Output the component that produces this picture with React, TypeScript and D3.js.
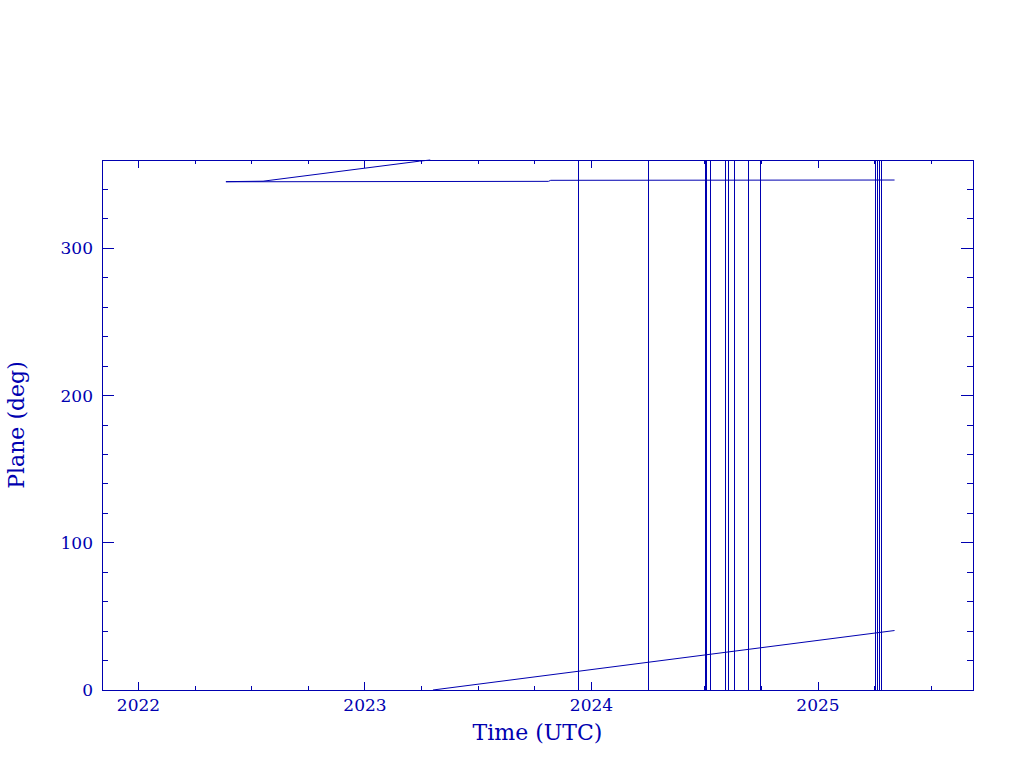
import React from "react";
import * as d3 from "d3";

// Orbit plane angle vs time (decimal years)
const upperTimes = [2022.386, 2022.55, 2023.24, 2023.288];
const upperDeg = [345.3, 345.6, 359.2, 360];

const lowerTimes = [2023.3, 2025.338];
const lowerDeg = [0, 40.4];

const flatTimes = [2022.386, 2023.81, 2023.82, 2025.338];
const flatDeg = [345.2, 345.5, 346.2, 346.4];

// full-range wraps (0 -> 360)
const wrapTimes = [
  2023.942, 2024.251, 2024.502, 2024.509, 2024.525, 2024.593, 2024.604,
  2024.63, 2024.692, 2024.745, 2025.255, 2025.264, 2025.272, 2025.282,
];

const xMajor = [2022, 2023, 2024, 2025];
const yMajor = [0, 100, 200, 300];

const BLUE = "#0000b0";
const FONT = "'DejaVu Serif', serif";

export default function App() {
  const left = 102, right = 973, top = 160, bottom = 690;
  const x = d3.scaleLinear().domain([2021.8389, 2025.6843]).range([left, right]);
  const y = d3.scaleLinear().domain([0, 360]).range([bottom, top]);

  const xMinor = d3.range(2022, 2025.7, 0.25).filter(t => Math.abs(t - Math.round(t)) > 0.01 && t < 2025.684);
  const yMinor = d3.range(0, 361, 20).filter(v => v % 100 !== 0);

  const line = d3
    .line<[number, number]>()
    .x(d => x(d[0]))
    .y(d => y(d[1]));
  const series = [
    d3.zip(upperTimes, upperDeg) as [number, number][],
    d3.zip(lowerTimes, lowerDeg) as [number, number][],
    d3.zip(flatTimes, flatDeg) as [number, number][],
  ];

  const tick = (x1: number, y1: number, x2: number, y2: number, k: string) => (
    <line key={k} x1={x1} y1={y1} x2={x2} y2={y2} stroke={BLUE} strokeWidth={1} />
  );

  return (
    <svg width={1024} height={768} style={{ position: "absolute", left: 0, top: 0, background: "#fff" }}>
      <g shapeRendering="crispEdges">
        <rect x={left} y={top} width={right - left} height={bottom - top} fill="none" stroke={BLUE} strokeWidth={1} />
        {xMajor.map(t => [
          tick(x(t), bottom, x(t), bottom - 8, "xb" + t),
          tick(x(t), top, x(t), top + 8, "xt" + t),
        ])}
        {xMinor.map(t => [
          tick(x(t), bottom, x(t), bottom - 4, "xmb" + t),
          tick(x(t), top, x(t), top + 4, "xmt" + t),
        ])}
        {yMajor.map(v => [
          tick(left, y(v), left + 12, y(v), "yl" + v),
          tick(right, y(v), right - 12, y(v), "yr" + v),
        ])}
        {yMinor.map(v => [
          tick(left, y(v), left + 6, y(v), "yml" + v),
          tick(right, y(v), right - 6, y(v), "ymr" + v),
        ])}
        {wrapTimes.map((t, i) => (
          <line key={"w" + i} x1={x(t)} x2={x(t)} y1={y(0)} y2={y(360)} stroke={BLUE} strokeWidth={1} />
        ))}
      </g>
      {series.map((s, i) => (
        <path key={"s" + i} d={line(s) || ""} fill="none" stroke={BLUE} strokeWidth={1} />
      ))}
      <g fill={BLUE} fontFamily={FONT} fontSize={17}>
        {xMajor.map(t => (
          <text key={"xl" + t} x={x(t)} y={711} textAnchor="middle">{t}</text>
        ))}
        {yMajor.map(v => (
          <text key={"yl" + v} x={93} y={y(v) + 6} textAnchor="end">{v}</text>
        ))}
      </g>
      <text x={(left + right) / 2} y={740} textAnchor="middle" fill={BLUE} fontFamily={FONT} fontSize={22}>
        Time (UTC)
      </text>
      <text
        transform={`translate(24,${(top + bottom) / 2}) rotate(-90)`}
        textAnchor="middle"
        fill={BLUE}
        fontFamily={FONT}
        fontSize={22}
      >
        Plane (deg)
      </text>
    </svg>
  );
}
